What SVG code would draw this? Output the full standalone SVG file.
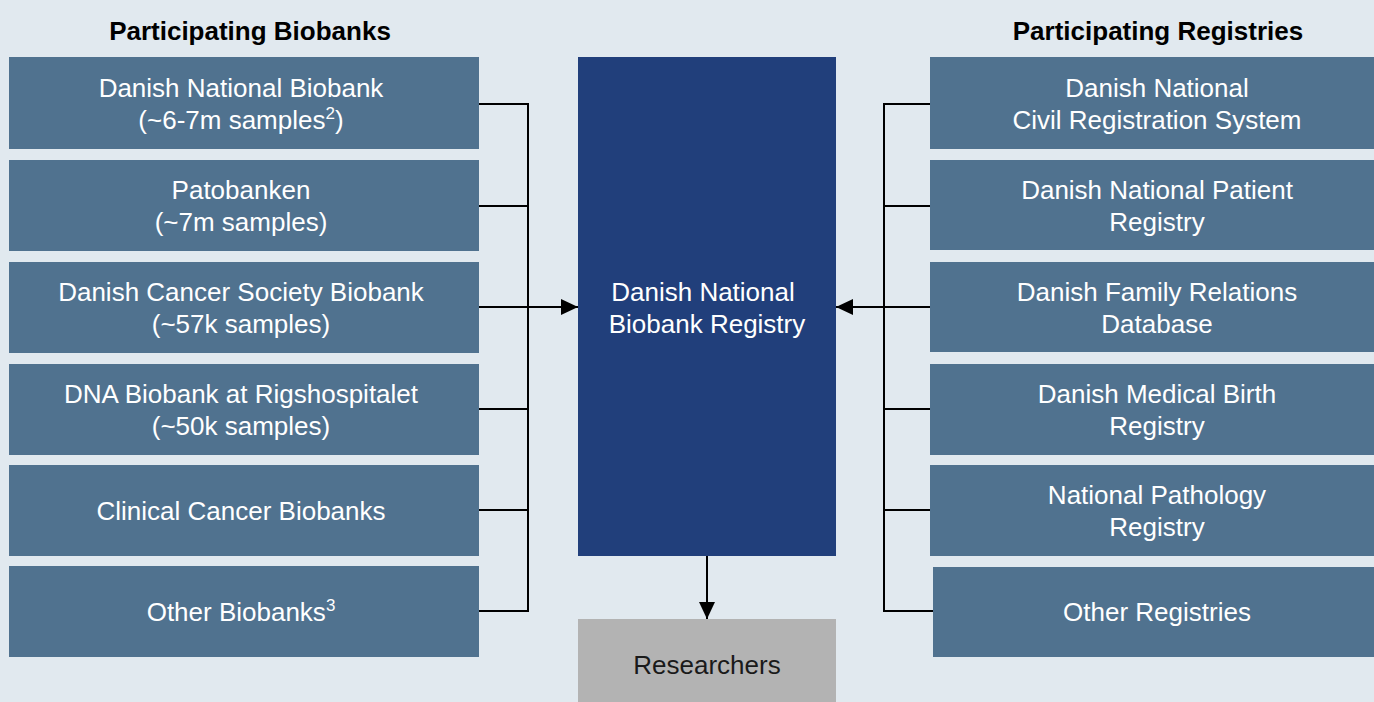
<svg xmlns="http://www.w3.org/2000/svg" width="1374" height="702" viewBox="0 0 1374 702">
<defs>
<marker id="arr" viewBox="0 0 10 10" refX="10" refY="5" markerWidth="8.5" markerHeight="8" markerUnits="strokeWidth" orient="auto" preserveAspectRatio="none">
<path d="M0,0 L10,5 L0,10 z" fill="#000"/>
</marker>
<style>
.bg{fill:#E1E9EF}
.box{fill:#50728F}
.t{font-family:"Liberation Sans",Arial,sans-serif;font-size:26px;fill:#fff;text-anchor:middle}
.h{font-family:"Liberation Sans",Arial,sans-serif;font-size:26px;font-weight:bold;fill:#000;text-anchor:middle}
.c{fill:none;stroke:#000;stroke-width:2}
.sup{font-size:17px}
</style>
</defs>
<rect class="bg" x="0" y="0" width="1374" height="702"/>
<text class="h" x="250" y="40">Participating Biobanks</text>
<text class="h" x="1158" y="40">Participating Registries</text>

<g id="b1"><rect class="box" x="9" y="57" width="470" height="92"/><text class="t" x="241" y="97">Danish National Biobank</text><text class="t" x="241" y="129">(~6-7m samples<tspan class="sup" dy="-10">2</tspan><tspan dy="10">)</tspan></text></g>
<g id="b2"><rect class="box" x="9" y="160" width="470" height="91"/><text class="t" x="241" y="199">Patobanken</text><text class="t" x="241" y="231">(~7m samples)</text></g>
<g id="b3"><rect class="box" x="9" y="262" width="470" height="91"/><text class="t" x="241" y="301">Danish Cancer Society Biobank</text><text class="t" x="241" y="333">(~57k samples)</text></g>
<g id="b4"><rect class="box" x="9" y="364" width="470" height="91"/><text class="t" x="241" y="403">DNA Biobank at Rigshospitalet</text><text class="t" x="241" y="435">(~50k samples)</text></g>
<g id="b5"><rect class="box" x="9" y="465" width="470" height="91"/><text class="t" x="241" y="520">Clinical Cancer Biobanks</text></g>
<g id="b6"><rect class="box" x="9" y="566" width="470" height="91"/><text class="t" x="241" y="621">Other Biobanks<tspan class="sup" dy="-10">3</tspan></text></g>

<g id="center"><rect x="578" y="57" width="258" height="499" fill="#213F7B"/><text class="t" x="703" y="301">Danish National</text><text class="t" x="707" y="333">Biobank Registry</text></g>
<g id="researchers"><rect x="578" y="619" width="258" height="83" fill="#B3B3B3"/><text class="t" x="707" y="674" style="fill:#1a1a1a">Researchers</text></g>

<g id="r1"><rect class="box" x="930" y="57" width="444" height="92"/><text class="t" x="1157" y="97">Danish National</text><text class="t" x="1157" y="129">Civil Registration System</text></g>
<g id="r2"><rect class="box" x="930" y="160" width="444" height="90"/><text class="t" x="1157" y="199">Danish National Patient</text><text class="t" x="1157" y="231">Registry</text></g>
<g id="r3"><rect class="box" x="930" y="262" width="444" height="90"/><text class="t" x="1157" y="301">Danish Family Relations</text><text class="t" x="1157" y="333">Database</text></g>
<g id="r4"><rect class="box" x="930" y="364" width="444" height="91"/><text class="t" x="1157" y="403">Danish Medical Birth</text><text class="t" x="1157" y="435">Registry</text></g>
<g id="r5"><rect class="box" x="930" y="465" width="444" height="91"/><text class="t" x="1157" y="504">National Pathology</text><text class="t" x="1157" y="536">Registry</text></g>
<g id="r6"><rect class="box" x="933" y="567" width="441" height="90"/><text class="t" x="1157" y="621">Other Registries</text></g>

<g id="connectors">
<path class="c" d="M479,104 H528 V611 H479 M479,206 H528 M479,307 H528 M479,409 H528 M479,510 H528"/>
<path class="c" d="M528,307 H578" marker-end="url(#arr)"/>
<path class="c" d="M930,104 H884 V611 H933 M930,206 H884 M930,307 H884 M930,409 H884 M930,510 H884"/>
<path class="c" d="M884,307 H836" marker-end="url(#arr)"/>
<path class="c" d="M707,556 V619" marker-end="url(#arr)"/>
</g>
</svg>
